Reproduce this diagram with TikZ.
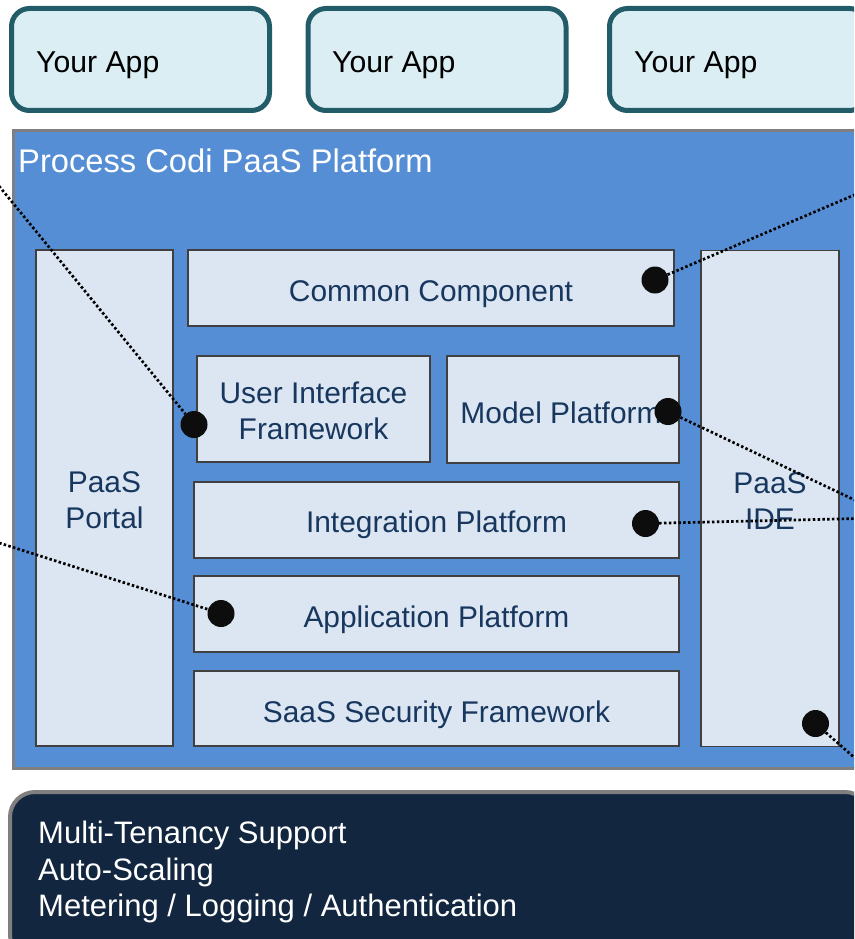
\documentclass[tikz,border=0pt]{standalone}
\usepackage{fontspec}
\setmainfont{Liberation Sans}
\definecolor{appborder}{HTML}{235C69}
\definecolor{appfill}{HTML}{DBEEF4}
\definecolor{platblue}{HTML}{558ED5}
\definecolor{platborder}{HTML}{7F7F7F}
\definecolor{infill}{HTML}{DCE6F2}
\definecolor{inborder}{HTML}{404040}
\definecolor{navytext}{HTML}{17375E}
\definecolor{dotblack}{HTML}{0D0D0D}
\definecolor{basefill}{HTML}{12263F}
\begin{document}
\begin{tikzpicture}[x=1pt,y=-1pt,
  appbox/.style={draw=appborder, line width=5pt, fill=appfill, rounded corners=18pt, inner sep=0pt},
  apptext/.style={font=\fontsize{30.2}{36}\selectfont, text=black, inner sep=0pt, anchor=base west},
  platbox/.style={draw=platborder, line width=3pt, fill=platblue, inner sep=0pt},
  titletext/.style={font=\fontsize{32.7}{40}\selectfont, text=white, inner sep=0pt, anchor=base west},
  inbox/.style={draw=inborder, line width=1.5pt, fill=infill, inner sep=0pt},
  lbl/.style={font=\fontsize{29.9}{36}\selectfont, text=navytext, inner sep=0pt, anchor=base},
  dotmark/.style={circle, fill=dotblack, inner sep=0pt, minimum size=27pt},
  conn/.style={line width=2.7pt, dash pattern=on 2.5pt off 2.3pt, draw=black},
  basebox/.style={draw=platborder, line width=4pt, fill=basefill, rounded corners=25pt, inner sep=0pt},
  basetext/.style={font=\fontsize{31}{36}\selectfont, text=white, inner sep=0pt, anchor=base west},
]
\useasboundingbox (0,0) rectangle (854,939);
\clip (0,0) rectangle (854,939);

% top application boxes
\node[appbox, minimum width=258pt, minimum height=102pt] (app1) at (140.5,59.5) {};
\node[appbox, minimum width=258pt, minimum height=102pt] (app2) at (437,59.5) {};
\node[appbox, minimum width=258pt, minimum height=102pt] (app3) at (738.5,59.5) {};
\node[apptext] (app1t) at (36,73) {Your App};
\node[apptext] (app2t) at (332,73) {Your App};
\node[apptext] (app3t) at (634,73) {Your App};

% platform
\node[platbox, minimum width=867pt, minimum height=637pt] (plat) at (446.5,449.5) {};
\node[titletext] (platt) at (18,172) {Process Codi PaaS Platform};

% inner boxes
\node[inbox, minimum width=137pt, minimum height=496pt] (portal) at (104.5,498) {};
\node[inbox, minimum width=138pt, minimum height=496pt] (ide) at (770,498.5) {};
\node[inbox, minimum width=486pt, minimum height=76pt] (cc) at (431,288) {};
\node[inbox, minimum width=233pt, minimum height=106pt] (ui) at (313.5,409) {};
\node[inbox, minimum width=232pt, minimum height=107pt] (mp) at (563,409.5) {};
\node[inbox, minimum width=485pt, minimum height=76pt] (ip) at (436.5,520) {};
\node[inbox, minimum width=485pt, minimum height=76pt] (ap) at (436.5,614) {};
\node[inbox, minimum width=485pt, minimum height=75pt] (ss) at (436.5,708.5) {};

% labels
\node[lbl] (portalt1) at (104.5,492) {PaaS};
\node[lbl] (portalt2) at (104.5,528) {Portal};
\node[lbl] (idet1) at (770,493) {PaaS};
\node[lbl] (idet2) at (770,529) {IDE};
\node[lbl] (cct) at (431,301) {Common Component};
\node[lbl] (uit1) at (313.5,403) {User Interface};
\node[lbl] (uit2) at (313.5,439) {Framework};
\node[lbl] (mpt) at (561,423) {Model Platform};
\node[lbl] (ipt) at (436.5,532) {Integration Platform};
\node[lbl] (apt) at (436.5,627) {Application Platform};
\node[lbl] (sst) at (436.5,722) {SaaS Security Framework};

% connector end points outside the picture
\coordinate (eui) at (-10,175);
\coordinate (ecc) at (880,184);
\coordinate (emp) at (880,512);
\coordinate (eip) at (880,518);
\coordinate (eide) at (880,780);
\coordinate (eap) at (-10,540);

% markers
\node[dotmark] (dcc) at (655,280) {};
\node[dotmark] (dui) at (194,424.5) {};
\node[dotmark] (dmp) at (668,411.5) {};
\node[dotmark] (dip) at (645.5,523.5) {};
\node[dotmark] (dap) at (221,613.5) {};
\node[dotmark] (dide) at (815.5,723.5) {};

% dotted connectors
\draw[conn] (eui) -- (dui);
\draw[conn] (dcc) -- (ecc);
\draw[conn] (dmp) -- (emp);
\draw[conn] (dip) -- (eip);
\draw[conn] (dide) -- (eide);
\draw[conn] (eap) -- (dap);

% base box
\node[basebox, minimum width=860pt, minimum height=168pt] (base) at (440,876) {};
\node[basetext] (bt1) at (38,843) {Multi-Tenancy Support};
\node[basetext] (bt2) at (38,880) {Auto-Scaling};
\node[basetext] (bt3) at (38,916) {Metering / Logging / Authentication};
\end{tikzpicture}
\end{document}
